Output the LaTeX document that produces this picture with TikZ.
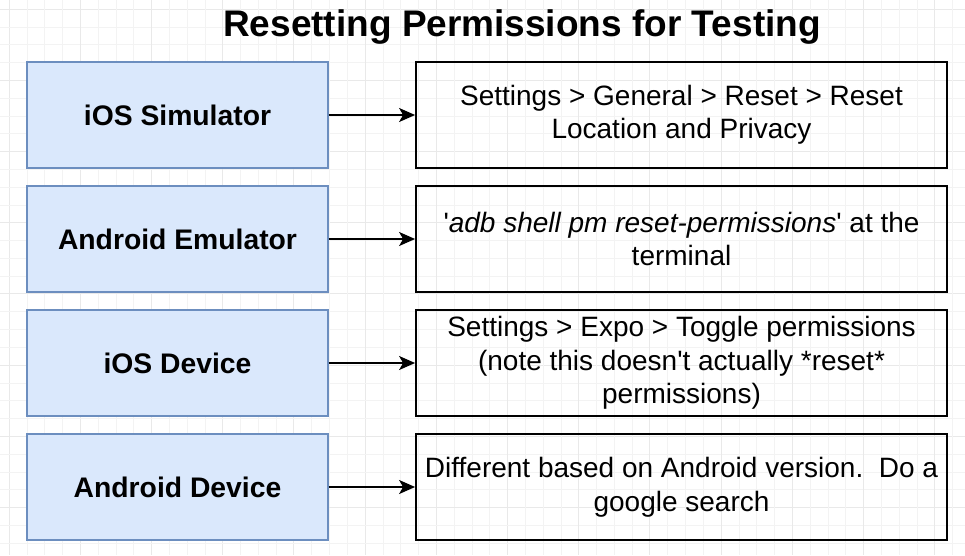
\documentclass[tikz,border=0pt]{standalone}
\usepackage{fontspec}
\setmainfont{Liberation Sans}[Ligatures=TeXOff]
\usetikzlibrary{arrows.meta}
\definecolor{srcfill}{HTML}{DAE8FC}
\definecolor{srcdraw}{HTML}{6C8EBF}
\definecolor{gridminor}{HTML}{F3F3F3}
\definecolor{gridmajor}{HTML}{E9E9E9}
\tikzset{
  srcbox/.style={draw=srcdraw, fill=srcfill, line width=1.3pt, minimum width=301pt, minimum height=106pt, inner sep=0pt, font={\fontsize{28.3}{34}\selectfont\bfseries}},
  dstbox/.style={draw=black, line width=1.8pt, minimum width=531pt, minimum height=106pt, inner sep=0pt, align=center, font={\fontsize{28}{33.5}\selectfont}},
  link/.style={-{Stealth[length=16pt,width=14pt,inset=4pt]}, line width=1.5pt}
}
\begin{document}
\begin{tikzpicture}[x=1pt,y=-1pt]
\useasboundingbox (0,0) rectangle (965,555);
\fill[white] (0,0) rectangle (965,555);
\foreach \i in {0,...,54} {
  \pgfmathsetmacro{\p}{9+17.8*\i}
  \pgfmathtruncatemacro{\m}{mod(\i,4)}
  \ifnum\m=0
    \draw[gridmajor, line width=0.8pt] (\p,0) -- (\p,555);
    \draw[gridmajor, line width=0.8pt] (0,\p) -- (965,\p);
  \else
    \draw[gridminor, line width=0.6pt] (\p,0) -- (\p,555);
    \draw[gridminor, line width=0.6pt] (0,\p) -- (965,\p);
  \fi
}
\node[font={\fontsize{37}{40}\selectfont\bfseries}] (title) at (522,27) {Resetting Permissions for Testing};

\node[srcbox] (s1) at (177.5,115) {iOS Simulator};
\node[srcbox] (s2) at (177.5,239) {Android Emulator};
\node[srcbox] (s3) at (177.5,363) {iOS Device};
\node[srcbox] (s4) at (177.5,487) {Android Device};

\node[dstbox] (d1) at (681.5,115) {Settings > General > Reset > Reset\\Location and Privacy};
\node[dstbox] (d2) at (681.5,239) {'\textit{adb shell pm reset-permissions}' at the\\terminal};
\node[dstbox] (d3) at (681.5,363) {Settings > Expo > Toggle permissions\\(note this doesn't actually *reset*\\permissions)};
\node[dstbox] (d4) at (681.5,487) {Different based on Android version.\ \ Do a\\google search};

\foreach \k in {1,...,4} {
  \draw[link] (s\k.east) -- (d\k.west);
}
\end{tikzpicture}
\end{document}
